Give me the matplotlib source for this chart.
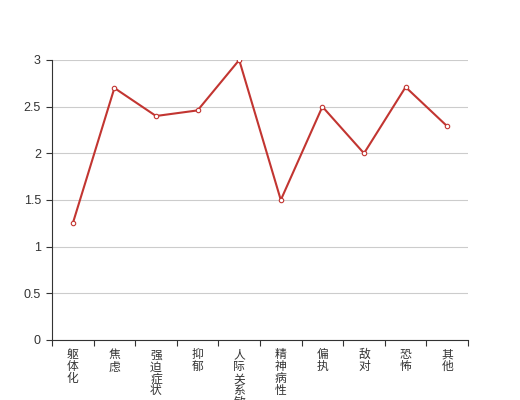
import matplotlib
matplotlib.use('Agg')
import matplotlib.pyplot as plt

plt.rcParams['font.family'] = ['Noto Sans CJK SC', 'DejaVu Sans']

categories = ['躯体化', '焦虑', '强迫症状', '抑郁', '人际关系敏感', '精神病性', '偏执', '敌对', '恐怖', '其他']
values = [1.25, 2.70, 2.40, 2.46, 3.00, 1.50, 2.50, 2.00, 2.71, 2.29]
yticks = [0, 0.5, 1, 1.5, 2, 2.5, 3]
ytick_labels = ['0', '0.5', '1', '1.5', '2', '2.5', '3']

fig = plt.figure(figsize=(5.2, 4.0), dpi=100)
ax = fig.add_axes([0.1, 0.15, 0.8, 0.70])

x = list(range(len(categories)))
ax.plot(x, values, color='#c23531', linewidth=1.5, marker='o', markersize=3.2,
        markerfacecolor='white', markeredgecolor='#c23531', markeredgewidth=0.8, zorder=3)

ax.set_xlim(-0.5, len(categories) - 0.5)
ax.set_ylim(0, 3)
ax.set_yticks(yticks)
ax.set_yticklabels(ytick_labels, fontfamily='Liberation Sans')
ax.yaxis.grid(True, color='#cccccc', linewidth=0.8)
ax.set_axisbelow(True)

# category labels stacked vertically, ticks on boundaries
ax.set_xticks([i - 0.5 for i in x] + [len(categories) - 0.5])
ax.set_xticklabels([])
ax.set_xticks(x, minor=True)
ax.set_xticklabels(['\n'.join(c) for c in categories], minor=True, va='top', linespacing=0.9)
ax.tick_params(axis='x', which='minor', length=0, pad=6, labelsize=8.5, labelcolor='#333333')
ax.tick_params(axis='x', which='major', length=4, color='#333333', direction='out')
ax.tick_params(axis='y', length=4, color='#333333', labelsize=9, labelcolor='#333333', pad=4)

for s in ['top', 'right']:
    ax.spines[s].set_visible(False)
ax.spines['left'].set_color('#333333')
ax.spines['bottom'].set_color('#333333')

fig.savefig('out.png', dpi=100)
